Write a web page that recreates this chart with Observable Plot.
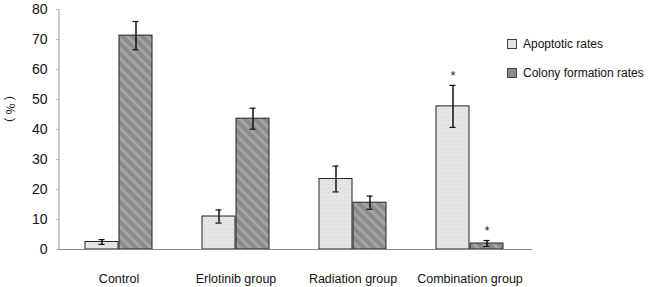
<!DOCTYPE html>
<html>
<head>
<meta charset="utf-8">
<script src="https://cdn.jsdelivr.net/npm/d3@7"></script>
<script src="https://cdn.jsdelivr.net/npm/@observablehq/plot@0.6"></script>
<style>
  html, body { margin: 0; padding: 0; background: #fff; }
  #wrap { position: relative; width: 652px; height: 287px; font-family: "Liberation Sans", Arial, sans-serif; }
  .leg { position: absolute; left: 507px; font-size: 12px; color: #111; white-space: nowrap; }
  .sw { display: inline-block; width: 8px; height: 8px; border: 1px solid #444; vertical-align: middle; margin-right: 6px; position: relative; top: -1px; }
</style>
</head>
<body>
<div id="wrap"></div>
<script>
const groups = ["Control", "Erlotinib group", "Radiation group", "Combination group"];
const apoptotic = [2.5, 11, 23.5, 47.7];
const apoptoticErr = [0.8, 2.2, 4.3, 7];
const colony = [71.3, 43.6, 15.6, 2];
const colonyErr = [4.7, 3.5, 2.2, 1];
const significant = [false, false, false, true];
const yTicks = [0, 10, 20, 30, 40, 50, 60, 70, 80];
const seriesNames = ["Apoptotic rates", "Colony formation rates"];
const yLabel = "（%）";

const apo = groups.map((g, i) => ({group: g, v: apoptotic[i], e: apoptoticErr[i], sig: significant[i]}));
const col = groups.map((g, i) => ({group: g, v: colony[i], e: colonyErr[i], sig: significant[i]}));

const font = "Liberation Sans, Arial, sans-serif";

const plot = Plot.plot({
  width: 652,
  height: 287,
  marginLeft: 59,
  marginRight: 122,
  marginTop: 9,
  marginBottom: 38,
  style: {fontFamily: font, fontSize: "13px", color: "#111", background: "#fff"},
  x: {domain: groups, type: "band", paddingInner: 0.424, paddingOuter: 0.212, label: null},
  y: {domain: [0, 80], label: null},
  marks: [
    Plot.barY(apo, {x: "group", y: "v", fill: "url(#patApo)", stroke: "#222", strokeWidth: 1, insetRight: 34}),
    Plot.barY(col, {x: "group", y: "v", fill: "url(#patCol)", stroke: "#222", strokeWidth: 1, insetLeft: 34}),
    Plot.ruleX(apo, {x: "group", y1: d => d.v - d.e, y2: d => d.v + d.e, dx: -17, stroke: "#111", strokeWidth: 1.5}),
    Plot.ruleX(col, {x: "group", y1: d => d.v - d.e, y2: d => d.v + d.e, dx: 17, stroke: "#111", strokeWidth: 1.5}),
    Plot.tickY(apo, {x: "group", y: d => d.v + d.e, insetLeft: 13.5, insetRight: 47.5, stroke: "#111", strokeWidth: 1.2}),
    Plot.tickY(apo, {x: "group", y: d => d.v - d.e, insetLeft: 13.5, insetRight: 47.5, stroke: "#111", strokeWidth: 1.2}),
    Plot.tickY(col, {x: "group", y: d => d.v + d.e, insetLeft: 47.5, insetRight: 13.5, stroke: "#111", strokeWidth: 1.2}),
    Plot.tickY(col, {x: "group", y: d => d.v - d.e, insetLeft: 47.5, insetRight: 13.5, stroke: "#111", strokeWidth: 1.2}),
    Plot.text(apo.filter(d => d.sig), {x: "group", y: d => d.v + d.e, text: () => "*", dx: -17, dy: -9, fontSize: 12}),
    Plot.text(col.filter(d => d.sig), {x: "group", y: d => d.v + d.e, text: () => "*", dx: 17, dy: -9, fontSize: 12}),
    Plot.ruleY([0], {stroke: "#888", strokeWidth: 1.2, insetRight: -2}),
    Plot.axisY({ticks: yTicks, tickSize: 3, tickPadding: 9, stroke: "#bbb", label: null, fontSize: 14}),
    Plot.axisX({tickSize: 0, tickPadding: 25, fontSize: 12.5, label: null}),
    Plot.text([yLabel], {frameAnchor: "left", rotate: -90, dx: -48, fontSize: 12, fontFamily: "Noto Sans CJK SC", className: "ylab"})
  ]
});

const svg = d3.select(plot);
svg.selectAll(".ylab text").style("letter-spacing", "3px");
const defs = svg.insert("defs", ":first-child");
const pa = defs.append("pattern").attr("id", "patApo").attr("patternUnits", "userSpaceOnUse").attr("width", 4).attr("height", 4);
pa.append("rect").attr("width", 4).attr("height", 4).attr("fill", "#e6e6e6");
pa.append("rect").attr("x", 0).attr("y", 0).attr("width", 1).attr("height", 1).attr("fill", "#cccccc");
pa.append("rect").attr("x", 2).attr("y", 2).attr("width", 1).attr("height", 1).attr("fill", "#d8d8d8");
const pc = defs.append("pattern").attr("id", "patCol").attr("patternUnits", "userSpaceOnUse").attr("width", 7).attr("height", 7).attr("patternTransform", "rotate(-45)");
pc.append("rect").attr("width", 7).attr("height", 7).attr("fill", "#8a8a8a");
pc.append("rect").attr("width", 3).attr("height", 7).attr("fill", "#a4a4a4");

// y axis line
svg.append("line").attr("x1", 59).attr("x2", 59).attr("y1", 9).attr("y2", 249).attr("stroke", "#aaa").attr("stroke-width", 1.2);

const wrap = document.getElementById("wrap");
wrap.appendChild(plot);
const leg1 = document.createElement("div");
leg1.className = "leg"; leg1.style.top = "37px";
leg1.innerHTML = `<span class="sw" style="background:#e4e4e4"></span>${seriesNames[0]}`;
const leg2 = document.createElement("div");
leg2.className = "leg"; leg2.style.top = "66px";
leg2.innerHTML = `<span class="sw" style="background:#8a8a8a"></span>${seriesNames[1]}`;
wrap.appendChild(leg1);
wrap.appendChild(leg2);
</script>
</body>
</html>
